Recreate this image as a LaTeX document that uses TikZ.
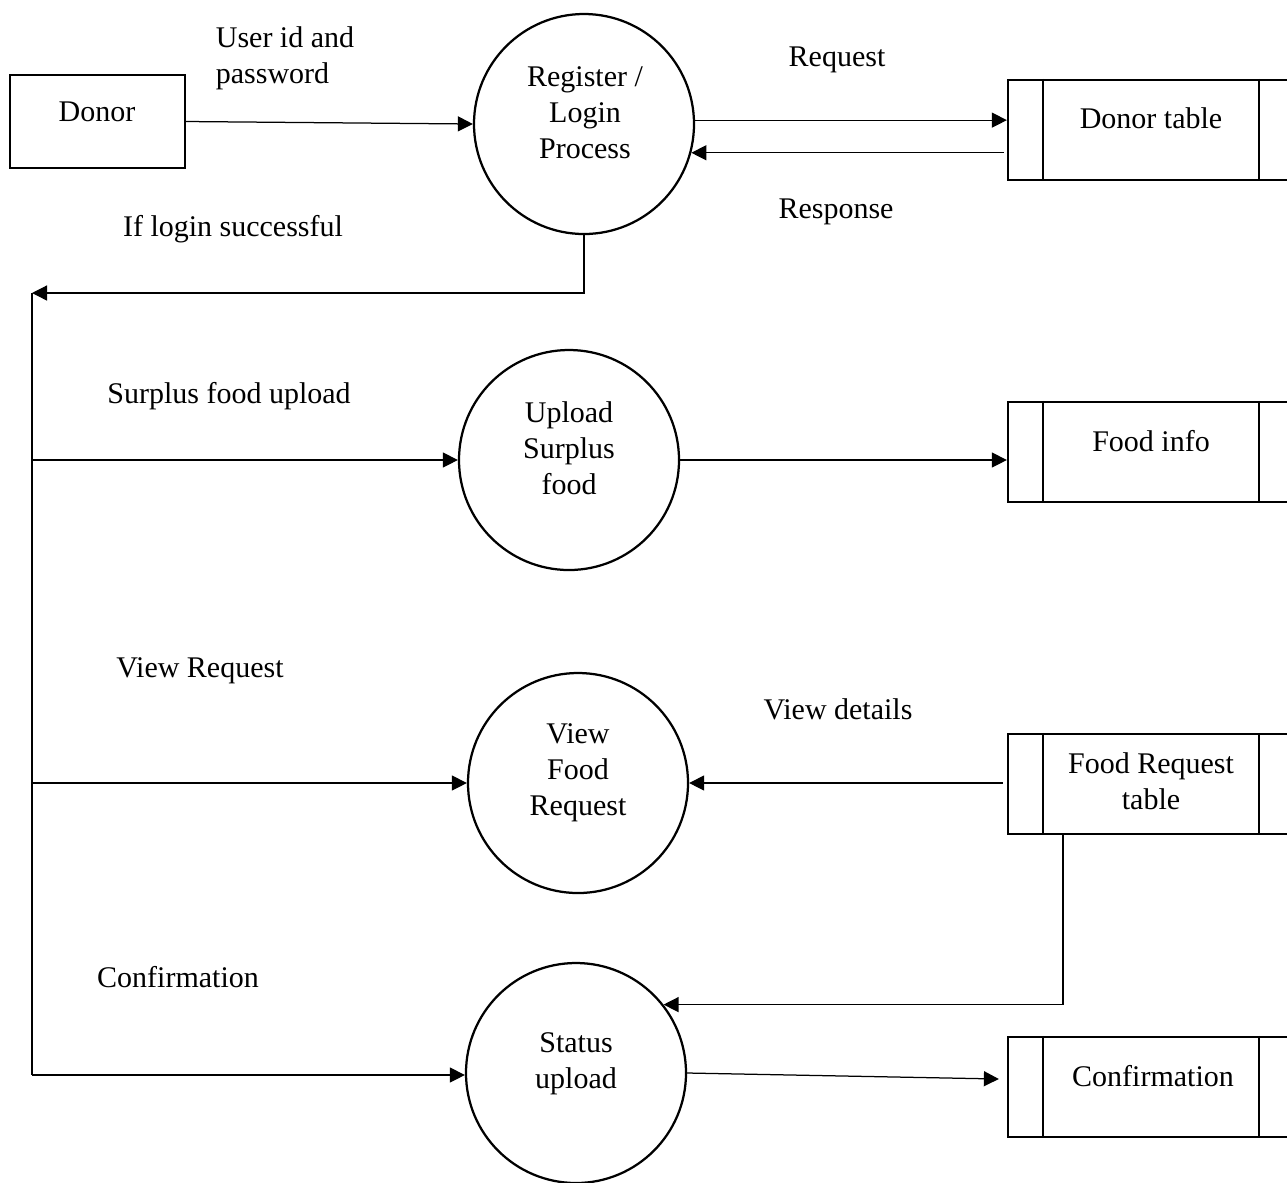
\documentclass[tikz,border=0pt]{standalone}
\usepackage{fontspec}
\setmainfont{Liberation Serif}
\usetikzlibrary{arrows.meta}

\tikzset{
  proc/.style={circle,draw,line width=0.9pt,minimum size=88pt,inner sep=0pt},
  ent/.style={rectangle,draw,line width=0.9pt,minimum width=70pt,minimum height=37.2pt},
  store/.style={rectangle,draw,line width=0.9pt,minimum width=114.4pt,minimum height=40pt},
  txt/.style={font=\fontsize{12}{14.4}\selectfont,align=center,inner sep=0pt},
  flow/.style={-{Triangle[length=6pt,width=6pt]},line width=0.5pt},
}

\begin{document}
\begin{tikzpicture}[x=0.4pt,y=-0.4pt]
\useasboundingbox (0,0) rectangle (1287,1182);

% entity
\node[ent] (donor) at (97.5,121.5) {};
\node[txt] (donor-t) at (97,112) {Donor};

% processes
\node[proc] (reg) at (584,124) {};
\node[txt] (reg-t) at (585,113) {Register /\\Login\\Process};
\node[proc] (up) at (569,460) {};
\node[txt] (up-t) at (569,448) {Upload\\Surplus\\food};
\node[proc] (view) at (578,783) {};
\node[txt] (view-t) at (578,773) {View\\Food\\Request};
\node[proc] (stat) at (576,1073) {};
\node[txt] (stat-t) at (576,1064) {Status\\upload};

% data stores
\node[store] (dtab) at (1151,130) {};
\node[txt] (dtab-t) at (1151,118) {Donor table};
\node[store] (finfo) at (1151,452) {};
\node[txt] (finfo-t) at (1151,441) {Food info};
\node[store] (frtab) at (1151,784) {};
\node[txt] (frtab-t) at (1151,781) {Food Request\\table};
\node[store] (conf) at (1151,1087) {};
\node[txt] (conf-t) at (1153,1076) {Confirmation};

\foreach \s in {dtab, finfo, frtab, conf} {
  \draw[line width=0.9pt] ([xshift=14.4pt]\s.north west) -- ([xshift=14.4pt]\s.south west);
  \draw[line width=0.9pt] ([xshift=-14.4pt]\s.north east) -- ([xshift=-14.4pt]\s.south east);
}

% flow labels
\node[txt,align=left] (l-user) at (285,58) {User id and\\password};
\node[txt] (l-req) at (837,60) {Request};
\node[txt] (l-resp) at (836,212) {Response};
\node[txt] (l-login) at (233,229) {If login successful};
\node[txt] (l-surplus) at (229,396) {Surplus food upload};
\node[txt] (l-viewreq) at (200,671) {View Request};
\node[txt] (l-details) at (838,709) {View details};
\node[txt] (l-conf) at (178,977) {Confirmation};

% flows
\coordinate (bus-top) at (32,293);
\coordinate (bus-bot) at (32,1075);

\draw[flow] (donor.east) -- (reg.west);
\draw[flow] (reg.2) -- (reg.2 -| dtab.west);
\draw[flow] ([xshift=-1.2pt]reg.-15 -| dtab.west) -- (reg.-15);
\draw[flow] (reg.south) |- (bus-top);
\draw[line width=0.5pt] (bus-top) -- (bus-bot);
\draw[flow] (bus-top |- up.west) -- (up.west);
\draw[flow] (up.east) -- (up.east -| finfo.west);
\draw[flow] (bus-top |- view.west) -- (view.west);
\draw[flow] ([xshift=-1.6pt]frtab.west |- view.east) -- (view.east);
\draw[flow] ([xshift=22.4pt]frtab.south west) |- (stat.38);
\draw[flow] (bus-bot) -- (bus-bot -| stat.west);
\draw[flow] (stat.east) -- ([xshift=-3.2pt,yshift=3.2pt]conf.west);
\end{tikzpicture}
\end{document}
